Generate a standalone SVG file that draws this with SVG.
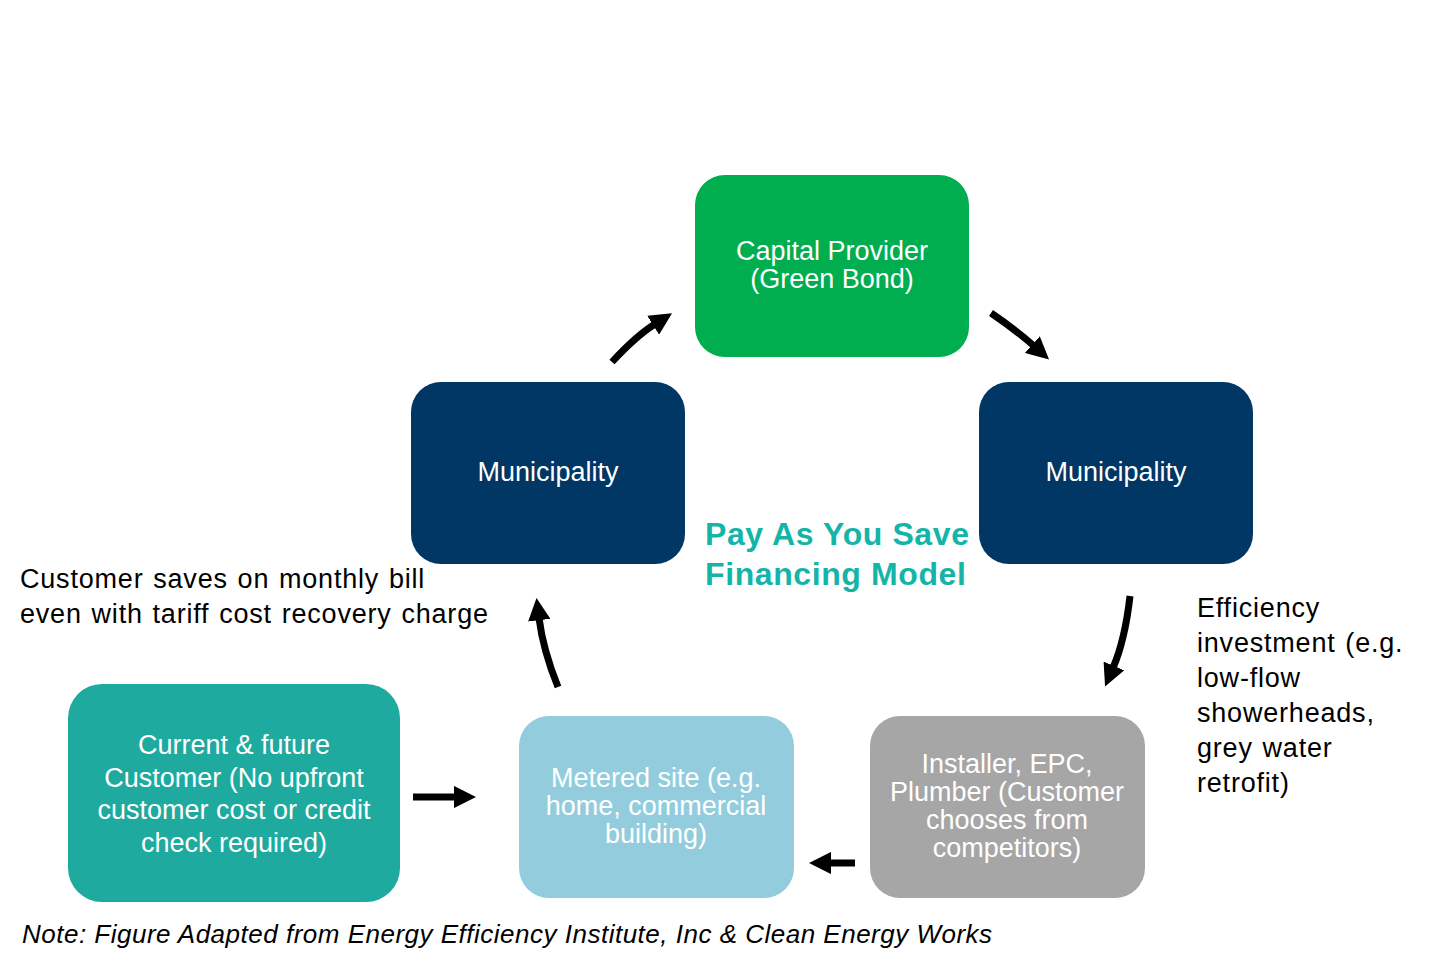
<svg xmlns="http://www.w3.org/2000/svg" width="1430" height="966" viewBox="0 0 1430 966">
<defs>
<style>
.box text{font-family:"Liberation Sans",Arial,sans-serif;font-size:27px;fill:#fff;text-anchor:middle}
.lbl{font-family:"Liberation Sans",Arial,sans-serif;font-size:27px;letter-spacing:0.8px;word-spacing:1.5px;fill:#000}
.note{font-family:"Liberation Sans",Arial,sans-serif;font-size:26px;font-style:italic;letter-spacing:0.5px;fill:#000}
.title{font-family:"Liberation Sans",Arial,sans-serif;font-size:32px;font-weight:bold;letter-spacing:0.6px;fill:#14B4A8}
.arr{fill:none;stroke:#000;stroke-width:7;marker-end:url(#ah)}
</style>
<marker id="ah" viewBox="0 0 10 10" markerWidth="3.2" markerHeight="3.2" refX="1" refY="5" orient="auto" markerUnits="strokeWidth">
<path d="M0,0 L10,5 L0,10 z" fill="#000"/>
</marker>
</defs>
<rect width="1430" height="966" fill="#fff"/>
<g id="capital" class="box">
<rect x="695" y="175" width="274" height="182" rx="30" fill="#00AE4F"/>
<text x="832" y="260">Capital Provider</text>
<text x="832" y="288">(Green Bond)</text>
</g>
<g id="muni-left" class="box">
<rect x="411" y="382" width="274" height="182" rx="30" fill="#003764"/>
<text x="548" y="481">Municipality</text>
</g>
<g id="muni-right" class="box">
<rect x="979" y="382" width="274" height="182" rx="30" fill="#003764"/>
<text x="1116" y="481">Municipality</text>
</g>
<g id="customer" class="box">
<rect x="68" y="684" width="332" height="218" rx="34" fill="#1FAAA0"/>
<text x="234" y="754">Current &amp; future</text>
<text x="234" y="787">Customer (No upfront</text>
<text x="234" y="819">customer cost or credit</text>
<text x="234" y="852">check required)</text>
</g>
<g id="metered" class="box">
<rect x="519" y="716" width="275" height="182" rx="30" fill="#93CDDD"/>
<text x="656" y="787">Metered site (e.g.</text>
<text x="656" y="815">home, commercial</text>
<text x="656" y="843">building)</text>
</g>
<g id="installer" class="box">
<rect x="870" y="716" width="275" height="182" rx="30" fill="#A6A6A6"/>
<text x="1007" y="773">Installer, EPC,</text>
<text x="1007" y="801">Plumber (Customer</text>
<text x="1007" y="829">chooses from</text>
<text x="1007" y="857">competitors)</text>
</g>
<g id="connectors">
<path class="arr" d="M612,362 Q636,336 655,324"/>
<path class="arr" d="M991,313 Q1016,330 1034,346"/>
<path class="arr" d="M1130,596 Q1125,640 1113,668"/>
<path class="arr" d="M558,687 Q543,650 539,618"/>
<path class="arr" d="M413,797 L456,797"/>
<path class="arr" d="M855,863 L829,863"/>
</g>
<g id="labels">
<text class="title" x="705" y="545">Pay As You Save</text>
<text class="title" x="705" y="585">Financing Model</text>
<text class="lbl" x="20" y="588">Customer saves on monthly bill</text>
<text class="lbl" x="20" y="623">even with tariff cost recovery charge</text>
<text class="lbl" x="1197" y="617">Efficiency</text>
<text class="lbl" x="1197" y="652">investment (e.g.</text>
<text class="lbl" x="1197" y="687">low-flow</text>
<text class="lbl" x="1197" y="722">showerheads,</text>
<text class="lbl" x="1197" y="757">grey water</text>
<text class="lbl" x="1197" y="792">retrofit)</text>
<text class="note" x="22" y="943">Note: Figure Adapted from Energy Efficiency Institute, Inc &amp; Clean Energy Works</text>
</g>
</svg>
